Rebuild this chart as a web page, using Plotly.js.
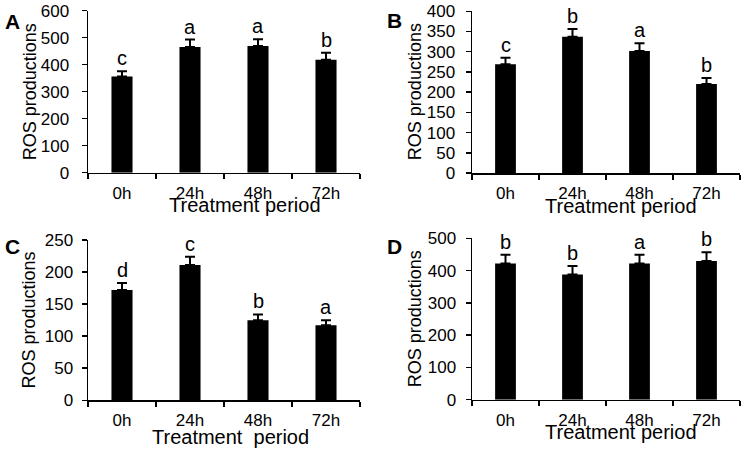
<!DOCTYPE html>
<html>
<head>
<meta charset="utf-8">
<script src="https://cdn.plot.ly/plotly-3.0.1.min.js"></script>
<style>html,body{margin:0;padding:0;background:#fff;}#chart{width:746px;height:453px;}</style>
</head>
<body>
<div id="chart"></div>
<script>
// ---- data ----
const categories = ['0h', '24h', '48h', '72h'];
const valuesA = [356, 466, 469, 418];
const errorsA = [20, 27, 25, 26];
const lettersA = ['c', 'a', 'a', 'b'];
const valuesB = [269, 337, 302, 220];
const errorsB = [16, 19, 19, 15];
const lettersB = ['c', 'b', 'a', 'b'];
const valuesC = [172, 211, 125, 117];
const errorsC = [11, 13, 9, 8];
const lettersC = ['d', 'c', 'b', 'a'];
const valuesD = [422, 388, 422, 430];
const errorsD = [27, 26, 27, 27];
const lettersD = ['b', 'b', 'a', 'b'];
const panelLabels = ['A', 'B', 'C', 'D'];
const yRanges = [[0, 600], [0, 400], [0, 250], [0, 500]];
const yDtick = [100, 50, 50, 100];
const xTitles = ['Treatment period', 'Treatment period', 'Treatment\u00a0\u00a0period', 'Treatment period'];
const yTitle = 'ROS productions';

const FONT = 'Liberation Sans, Arial, sans-serif';
const W = 746, H = 453;
const panels = [
  {v: valuesA, e: errorsA, l: lettersA},
  {v: valuesB, e: errorsB, l: lettersB},
  {v: valuesC, e: errorsC, l: lettersC},
  {v: valuesD, e: errorsD, l: lettersD}
];
// pixel layout of each plot area [left, right, top, bottom]
const boxes = [[88, 360, 10.7, 172.7], [472, 740, 11.3, 173], [88, 360, 240, 400.3], [472, 740, 238.3, 399.7]];
const titleShift = [[21, -20], [15, -21], [6, -25], [15, -20]];
const yTitleShift = [-58.5, -57, -58.7, -56.8];
const yLabelStandoff = [9, 7, 5, 6];
const labelPos = [[3, 21], [385, 20], [3, 246], [385, 246]];

const data = [];
const annotations = [];
const layout = {
  width: W, height: H,
  margin: {l: 0, r: 0, t: 0, b: 0},
  paper_bgcolor: '#fff', plot_bgcolor: '#fff',
  showlegend: false,
  bargap: 0.69,
  font: {family: FONT, color: '#000', size: 16},
  annotations: annotations
};

panels.forEach((p, i) => {
  const n = i + 1;
  const xa = 'x' + (n === 1 ? '' : n), ya = 'y' + (n === 1 ? '' : n);
  const b = boxes[i];
  data.push({
    type: 'bar', x: categories, y: p.v, xaxis: xa, yaxis: ya,
    marker: {color: '#000', line: {width: 0}},
    error_y: {type: 'data', array: p.e, symmetric: false, arrayminus: p.e.map(() => 0),
              color: '#000', thickness: 2, width: 5},
    hoverinfo: 'none'
  });
  layout['xaxis' + (n === 1 ? '' : n)] = {
    domain: [b[0] / W, b[1] / W], anchor: ya,
    type: 'category', range: [-0.5, 3.5],
    showline: true, linecolor: '#000', linewidth: 1.5,
    ticks: 'outside', tickson: 'boundaries', ticklen: 5, tickwidth: 1.5, tickcolor: '#000',
    ticklabelstandoff: 4,
    tickfont: {family: FONT, size: 17, color: '#000'},
    showgrid: false, zeroline: false, fixedrange: true
  };
  layout['yaxis' + (n === 1 ? '' : n)] = {
    domain: [1 - b[3] / H, 1 - b[2] / H], anchor: xa,
    range: yRanges[i], dtick: yDtick[i], tick0: 0,
    showline: true, linecolor: '#000', linewidth: 1.5,
    ticks: 'outside', ticklen: 5, tickwidth: 1.5, tickcolor: '#000',
    ticklabelstandoff: yLabelStandoff[i],
    tickfont: {family: FONT, size: 17, color: '#000'},
    showgrid: false, zeroline: false, fixedrange: true
  };
  // significance letters
  categories.forEach((c, k) => {
    annotations.push({
      xref: xa, yref: ya, x: c, y: p.v[k] + p.e[k],
      text: p.l[k], showarrow: false, xanchor: 'center', yanchor: 'bottom',
      font: {family: FONT, size: 20, color: '#000'}
    });
  });
  // x title
  annotations.push({
    xref: xa + ' domain', yref: ya + ' domain', x: 0.5, y: 0,
    xshift: titleShift[i][0], yshift: titleShift[i][1],
    xanchor: 'center', yanchor: 'top', showarrow: false, borderpad: 0,
    text: xTitles[i], font: {family: FONT, size: 20, color: '#000'}
  });
  // y title
  annotations.push({
    xref: xa + ' domain', yref: ya + ' domain', x: 0, y: 0.5,
    xshift: yTitleShift[i], xanchor: 'center', yanchor: 'middle',
    textangle: -90, showarrow: false,
    text: yTitle, font: {family: FONT, size: 18, color: '#000'}
  });
  // panel label
  annotations.push({
    xref: 'paper', yref: 'paper', x: labelPos[i][0] / W, y: 1 - labelPos[i][1] / H,
    xanchor: 'left', yanchor: 'middle', showarrow: false,
    text: '<b>' + panelLabels[i] + '</b>', font: {family: FONT, size: 21, color: '#000'}
  });
});

Plotly.newPlot('chart', data, layout, {staticPlot: true, displayModeBar: false});
</script>
</body>
</html>
